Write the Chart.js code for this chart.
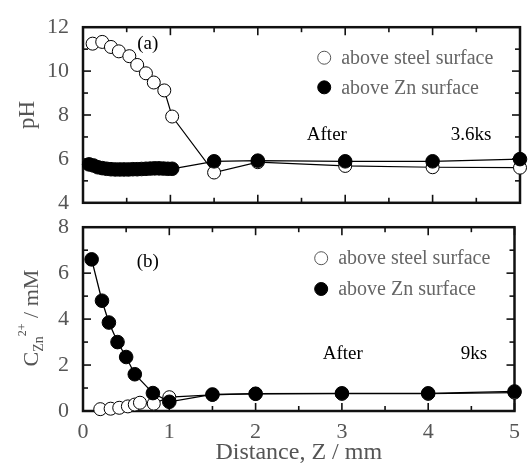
<!DOCTYPE html>
<html>
<head>
<meta charset="utf-8">
<script src="https://cdn.jsdelivr.net/npm/chart.js@4/dist/chart.umd.min.js"></script>
<style>
  body { margin: 0; background: #fff; }
  #wrap { position: relative; width: 528px; height: 467px; }
  canvas { position: absolute; left: 0; }
  #cA { top: 0; }
  #cB { top: 200px; }
</style>
</head>
<body>
<div id="wrap">
  <canvas id="cA" width="528" height="230"></canvas>
  <canvas id="cB" width="528" height="267"></canvas>
</div>
<script>
// panel (a): pH above the two surfaces
const steelPhX = [0.11, 0.22, 0.32, 0.41, 0.53, 0.62, 0.72, 0.81, 0.93, 1.02, 1.5, 2, 3, 4, 5];
const steelPh  = [11.25, 11.33, 11.1, 10.9, 10.68, 10.28, 9.9, 9.48, 9.12, 7.93, 5.38, 5.85, 5.68, 5.62, 5.6];
const znPhX = [0.07, 0.12, 0.17, 0.22, 0.27, 0.32, 0.37, 0.42, 0.47, 0.52, 0.57, 0.62, 0.67, 0.72, 0.77, 0.82, 0.87, 0.92, 0.97, 1.02, 1.5, 2, 3, 4, 5];
const znPh  = [5.75, 5.7, 5.62, 5.58, 5.55, 5.53, 5.52, 5.52, 5.52, 5.52, 5.53, 5.53, 5.54, 5.55, 5.56, 5.57, 5.57, 5.56, 5.55, 5.55, 5.89, 5.92, 5.89, 5.89, 5.99];

// panel (b): Zn2+ concentration
const steelCX = [0.2, 0.32, 0.42, 0.52, 0.6, 0.66, 0.82, 1.0, 1.5, 2, 3, 4, 5];
const steelC  = [0.08, 0.1, 0.14, 0.2, 0.28, 0.36, 0.32, 0.6, 0.7, 0.75, 0.75, 0.75, 0.8];
const znCX = [0.1, 0.22, 0.3, 0.4, 0.5, 0.6, 0.81, 1.0, 1.5, 2, 3, 4, 5];
const znC  = [6.6, 4.8, 3.85, 3.0, 2.35, 1.6, 0.78, 0.4, 0.72, 0.75, 0.77, 0.77, 0.85];

const xMajor = [0, 1, 2, 3, 4, 5];
const xMinor = [0.5, 1.5, 2.5, 3.5, 4.5];
const phMajor = [4, 6, 8, 10, 12];
const phMinor = [5, 7, 9, 11];
const cMajor = [0, 2, 4, 6, 8];
const cMinor = [1, 3, 5, 7];

const legendLabels = ['above steel surface', 'above Zn surface'];

const serif = '"Liberation Serif", "Times New Roman", serif';

function pts(xs, ys) {
  return xs.map((v, i) => ({ x: v, y: ys[i] }));
}

function seriesSet(znX, znY, stX, stY) {
  return [
    { label: legendLabels[1], data: pts(znX, znY), borderColor: '#000', borderWidth: 1.3,
      pointRadius: 6.8, pointBackgroundColor: '#000', pointBorderColor: '#000', pointBorderWidth: 1, clip: false },
    { label: legendLabels[0], data: pts(stX, stY), borderColor: '#000', borderWidth: 1.2,
      pointRadius: 6.5, pointBackgroundColor: '#fff', pointBorderColor: '#000', pointBorderWidth: 1, clip: false }
  ];
}

const frameTicks = {
  id: 'frameTicks',
  beforeDatasetsDraw(chart, args, opts) {
    const { ctx, chartArea: a, scales } = chart;
    const sx = scales.x, sy = scales.y;
    ctx.save();
    ctx.strokeStyle = '#111';
    const seg = (x1, y1, x2, y2) => { ctx.beginPath(); ctx.moveTo(x1, y1); ctx.lineTo(x2, y2); ctx.stroke(); };
    ctx.lineWidth = 1.6;
    const xt = (list, len) => list.forEach(v => {
      const p = sx.getPixelForValue(v);
      seg(p, a.bottom, p, a.bottom - len);
      seg(p, a.top, p, a.top + len);
    });
    const yt = (list, len) => list.forEach(v => {
      const p = sy.getPixelForValue(v);
      seg(a.left, p, a.left + len, p);
      seg(a.right, p, a.right - len, p);
    });
    xt(xMajor, 8); xt(xMinor, 5);
    yt(opts.yMajor, 8); yt(opts.yMinor, 5);
    ctx.lineWidth = 2.5;
    ctx.strokeRect(a.left, a.top, a.right - a.left, a.bottom - a.top);
    ctx.restore();
  },
  afterDatasetsDraw(chart, args, opts) {
    const { ctx, scales } = chart;
    const sx = scales.x, sy = scales.y;
    ctx.save();
    ctx.textBaseline = 'middle';
    // notes
    ctx.fillStyle = '#000';
    ctx.font = '19px ' + serif;
    ctx.textAlign = 'center';
    opts.notes.forEach(n => ctx.fillText(n.text, sx.getPixelForValue(n.x), sy.getPixelForValue(n.y)));
    // legend
    const lx = sx.getPixelForValue(opts.legend.x);
    opts.legend.rows.forEach((y, i) => {
      const py = sy.getPixelForValue(y);
      ctx.beginPath();
      ctx.arc(lx, py, 6.5, 0, Math.PI * 2);
      ctx.fillStyle = i === 0 ? '#fff' : '#000';
      ctx.fill();
      ctx.strokeStyle = i === 0 ? '#555' : '#000';
      ctx.lineWidth = 1;
      ctx.stroke();
      ctx.fillStyle = '#666';
      ctx.font = '20px ' + serif;
      ctx.textAlign = 'left';
      ctx.fillText(legendLabels[i], lx + 17, py + 1);
    });
    ctx.restore();
  },
  afterDraw(chart, args, opts) {
    if (!opts.cLabel) return;
    const ctx = chart.ctx;
    ctx.save();
    ctx.translate(opts.cLabel.x, opts.cLabel.y);
    ctx.rotate(-Math.PI / 2);
    ctx.fillStyle = '#555';
    ctx.textBaseline = 'alphabetic';
    const parts = [
      { t: 'C', size: 22, dy: 0 },
      { t: 'Zn', size: 14, dy: 5 },
      { t: '2+', size: 12, dy: -12 },
      { t: ' / mM', size: 22, dy: 0 }
    ];
    let w = 0;
    parts.forEach(p => { ctx.font = p.size + 'px ' + serif; p.w = ctx.measureText(p.t).width; w += p.w; });
    let x = -w / 2;
    parts.forEach(p => { ctx.font = p.size + 'px ' + serif; ctx.fillText(p.t, x, 8 + p.dy); x += p.w; });
    ctx.restore();
  }
};

const tickFont = { family: serif, size: 22 };

const chartA = new Chart(document.getElementById('cA'), {
  type: 'line',
  data: { datasets: seriesSet(znPhX, znPh, steelPhX, steelPh) },
  options: {
    responsive: false,
    animation: false,
    devicePixelRatio: 1,
    layout: { padding: { left: 0, right: 8, top: 20, bottom: 20 } },
    plugins: {
      legend: { display: false },
      tooltip: { enabled: false },
      frameTicks: {
        yMajor: phMajor, yMinor: phMinor,
        notes: [
          { text: '(a)', x: 0.74, y: 11.24 },
          { text: 'After', x: 2.79, y: 7.07 },
          { text: '3.6ks', x: 4.44, y: 7.07 }
        ],
        legend: { x: 2.76, rows: [10.61, 9.26] }
      }
    },
    scales: {
      x: { type: 'linear', min: 0, max: 5, display: false },
      y: {
        min: 4, max: 12,
        grid: { display: false, drawTicks: false },
        border: { display: false },
        ticks: { stepSize: 2, font: tickFont, color: '#555', padding: 14 },
        title: { display: true, text: 'pH', font: { family: serif, size: 23 }, color: '#555', padding: { top: 14, bottom: 0 } },
        afterFit: s => { s.width = 83; }
      }
    }
  },
  plugins: [frameTicks]
});

const chartB = new Chart(document.getElementById('cB'), {
  type: 'line',
  data: { datasets: seriesSet(znCX, znC, steelCX, steelC) },
  options: {
    responsive: false,
    animation: false,
    devicePixelRatio: 1,
    layout: { padding: { left: 0, right: 8, top: 21, bottom: 0 } },
    plugins: {
      legend: { display: false },
      tooltip: { enabled: false },
      frameTicks: {
        yMajor: cMajor, yMinor: cMinor,
        notes: [
          { text: '(b)', x: 0.75, y: 6.48 },
          { text: 'After', x: 3.01, y: 2.48 },
          { text: '9ks', x: 4.53, y: 2.48 }
        ],
        legend: { x: 2.76, rows: [6.65, 5.31] },
        cLabel: { x: 30, y: 118 }
      }
    },
    scales: {
      x: {
        type: 'linear', min: 0, max: 5,
        grid: { display: false, drawTicks: false },
        border: { display: false },
        ticks: { stepSize: 1, font: tickFont, color: '#555', padding: 8 },
        title: { display: true, text: 'Distance, Z / mm', font: { family: serif, size: 24 }, color: '#555', padding: { top: 0, bottom: 0 } },
        afterFit: s => { s.height = 56; }
      },
      y: {
        min: 0, max: 8,
        grid: { display: false, drawTicks: false },
        border: { display: false },
        ticks: { stepSize: 2, font: tickFont, color: '#555', padding: 14 },
        afterFit: s => { s.width = 83; }
      }
    }
  },
  plugins: [frameTicks]
});
</script>
</body>
</html>
